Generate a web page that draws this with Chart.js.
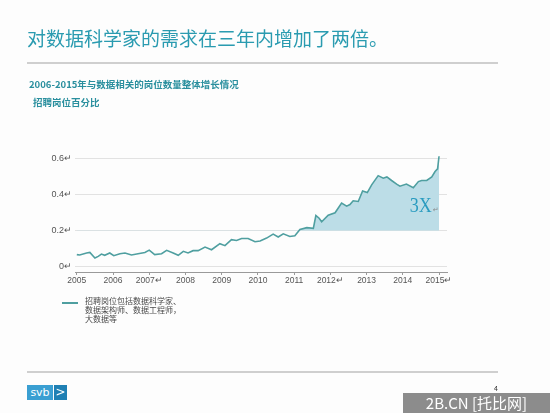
<!DOCTYPE html>
<html>
<head>
<meta charset="utf-8">
<script src="https://cdn.jsdelivr.net/npm/chart.js@4.4.1/dist/chart.umd.min.js"></script>
<style>
  html, body { margin:0; padding:0; background:#fff; }
  #page { position:relative; width:550px; height:413px; overflow:hidden; background:#fdfdfd;
          font-family:"Noto Sans CJK SC","Noto Sans",sans-serif; }
  #c { position:absolute; left:0; top:0; }
  .abs { position:absolute; white-space:nowrap; }
  #title { left:27px; top:24px; font-size:19px; color:#2a9bb0; letter-spacing:0px; }
  #rule1 { left:27px; top:62px; width:471px; height:2px; background:#cfcfcf; }
  #sub1 { left:29px; top:77px; font-size:9.5px; font-weight:bold; color:#2a8f9e; }
  #sub2 { left:33px; top:95px; font-size:9.5px; font-weight:bold; color:#2a8f9e; }
  #legline { left:62px; top:302px; width:16px; height:2px; }
  #legtext { left:85px; top:297px; font-size:8px; line-height:8.8px; color:#4a4a4a; white-space:normal; width:110px; }
  #rule2 { left:27px; top:371px; width:471px; height:2px; background:#cfcfcf; }
  #logo1 { left:27px; top:385px; width:26px; height:15px; background:#3a9fd2; color:#fff; font-size:11px; line-height:15px; text-align:center; font-family:"DejaVu Sans",sans-serif; }
  #logo2 { left:54px; top:385px; width:13px; height:15px; background:#1f80b4; color:#fff; font-size:12px; line-height:15px; text-align:center; font-family:"DejaVu Sans",sans-serif; }
  #pg { left:494px; top:383px; font-size:7px; color:#333; }
  #wm { left:403px; top:393px; width:147px; height:20px; background:#8c8c8c; color:#fff; font-size:15px; line-height:20px; text-align:center; }
</style>
</head>
<body>
<div id="page">
  <canvas id="c" width="550" height="413"></canvas>
  <div class="abs" id="title">对数据科学家的需求在三年内增加了两倍。</div>
  <div class="abs" id="rule1"></div>
  <div class="abs" id="sub1">2006-2015年与数据相关的岗位数量整体增长情况</div>
  <div class="abs" id="sub2">招聘岗位百分比</div>
  <div class="abs" id="legline"></div>
  <div class="abs" id="legtext"></div>
  <div class="abs" id="rule2"></div>
  <div class="abs" id="logo1">svb</div>
  <div class="abs" id="logo2">&gt;</div>
  <div class="abs" id="pg">4</div>
  <div class="abs" id="wm">2B.CN [托比网]</div>
</div>
<script>
// ---- data ----
const seriesLabel = "招聘岗位包括数据科学家、数据架构师、数据工程师，大数据等";
const xYears = [
  2005.00, 2005.08, 2005.27, 2005.36, 2005.50, 2005.59, 2005.68, 2005.77, 2005.91, 2006.02,
  2006.19, 2006.33, 2006.51, 2006.69, 2006.88, 2007.00, 2007.15, 2007.34, 2007.48, 2007.66,
  2007.80, 2007.94, 2008.07, 2008.21, 2008.35, 2008.54, 2008.72, 2008.95, 2009.09, 2009.27,
  2009.41, 2009.55, 2009.73, 2009.92, 2010.06, 2010.24, 2010.42, 2010.56, 2010.70, 2010.88,
  2011.02, 2011.16, 2011.35, 2011.53, 2011.60, 2011.69, 2011.76, 2011.94, 2012.13, 2012.31,
  2012.45, 2012.54, 2012.63, 2012.77, 2012.89, 2013.02, 2013.14, 2013.32, 2013.46, 2013.56,
  2013.69, 2013.83, 2013.92, 2014.10, 2014.29, 2014.43, 2014.52, 2014.66, 2014.80, 2014.89,
  2014.96, 2015.00
];
const jobShare = [
  0.067, 0.065, 0.076, 0.079, 0.048, 0.057, 0.070, 0.063, 0.076, 0.061,
  0.072, 0.076, 0.065, 0.072, 0.079, 0.092, 0.067, 0.072, 0.091, 0.076,
  0.063, 0.085, 0.076, 0.089, 0.089, 0.109, 0.094, 0.128, 0.117, 0.150,
  0.146, 0.157, 0.157, 0.139, 0.143, 0.159, 0.181, 0.165, 0.183, 0.168,
  0.172, 0.207, 0.217, 0.213, 0.285, 0.270, 0.250, 0.287, 0.300, 0.354,
  0.337, 0.346, 0.367, 0.363, 0.422, 0.413, 0.456, 0.507, 0.493, 0.500,
  0.480, 0.460, 0.448, 0.460, 0.440, 0.474, 0.480, 0.480, 0.500, 0.530,
  0.545, 0.615
];
const yearTicks = [2005, 2006, 2007, 2008, 2009, 2010, 2011, 2012, 2013, 2014, 2015];
const yearLabels = ["2005", "2006", "2007↵", "2008", "2009", "2010", "2011", "2012↵", "2013", "2014", "2015↵"];
const valueTicks = [0, 0.2, 0.4, 0.6];
const valueLabels = ["0↵", "0.2↵", "0.4↵", "0.6↵"];
const baselineValue = 0.2;
const growthNote = "3X";

// ---- styles ----
const lineColor = "#4f9fa0";
const fillColor = "#bcdde7";
document.getElementById("legline").style.background = lineColor;
document.getElementById("legtext").innerHTML = "招聘岗位包括数据科学家、<br>数据架构师、数据工程师，<br>大数据等";

const points = xYears.map((x, i) => ({ x: x, y: jobShare[i] }));

const notePlugin = {
  id: "note",
  afterDatasetsDraw(chart) {
    const ctx = chart.ctx;
    const xs = chart.scales.x, ys = chart.scales.y;
    const px = xs.getPixelForValue(2014.8), py = ys.getPixelForValue(0.303);
    ctx.save();
    ctx.translate(px, py);
    ctx.scale(0.82, 1);
    ctx.font = '22px "Liberation Serif", serif';
    ctx.fillStyle = "#2b9cc0";
    ctx.textAlign = "right";
    ctx.textBaseline = "alphabetic";
    ctx.fillText(growthNote, 0, 0);
    ctx.restore();
    ctx.save();
    ctx.font = '7px "DejaVu Sans", sans-serif';
    ctx.fillStyle = "#888";
    ctx.textAlign = "left";
    ctx.fillText("↵", px + 1, py);
    ctx.restore();
  }
};

new Chart(document.getElementById("c"), {
  type: "line",
  data: {
    datasets: [{
      label: seriesLabel,
      data: points,
      borderColor: lineColor,
      borderWidth: 1.6,
      pointRadius: 0,
      tension: 0,
      fill: { value: baselineValue, above: fillColor, below: "rgba(0,0,0,0)" }
    }]
  },
  options: {
    responsive: false,
    animation: false,
    devicePixelRatio: 1,
    layout: { padding: { left: 0, right: 103, top: 150, bottom: 121 } },
    plugins: { legend: { display: false }, tooltip: { enabled: false } },
    scales: {
      x: {
        type: "linear",
        min: 2004.95,
        max: 2015.22,
        afterBuildTicks: (s) => { s.ticks = yearTicks.map(v => ({ value: v })); },
        afterFit: (s) => { s.height = 20; },
        grid: { drawOnChartArea: false, drawTicks: true, tickLength: 3, color: "#9a9a9a" },
        border: { display: true, color: "#9a9a9a", width: 1 },
        ticks: {
          padding: 1,
          maxRotation: 0,
          autoSkip: false,
          color: "#555",
          font: { size: 8.5, family: "Liberation Sans, Arial, sans-serif" },
          callback: (v) => { const i = yearTicks.indexOf(v); return i >= 0 ? yearLabels[i] : ""; }
        }
      },
      y: {
        min: -0.03,
        max: 0.65,
        afterBuildTicks: (s) => { s.ticks = valueTicks.map(v => ({ value: v })); },
        afterFit: (s) => { s.width = 75; },
        grid: { drawTicks: false, color: "#e2e2e2", lineWidth: 1 },
        border: { display: false },
        ticks: {
          padding: 3,
          color: "#555",
          font: { size: 9, family: "Liberation Sans, Arial, sans-serif" },
          callback: (v) => { const i = valueTicks.findIndex(t => Math.abs(t - v) < 1e-9); return i >= 0 ? valueLabels[i] : ""; }
        }
      }
    }
  },
  plugins: [notePlugin]
});
</script>
</body>
</html>
